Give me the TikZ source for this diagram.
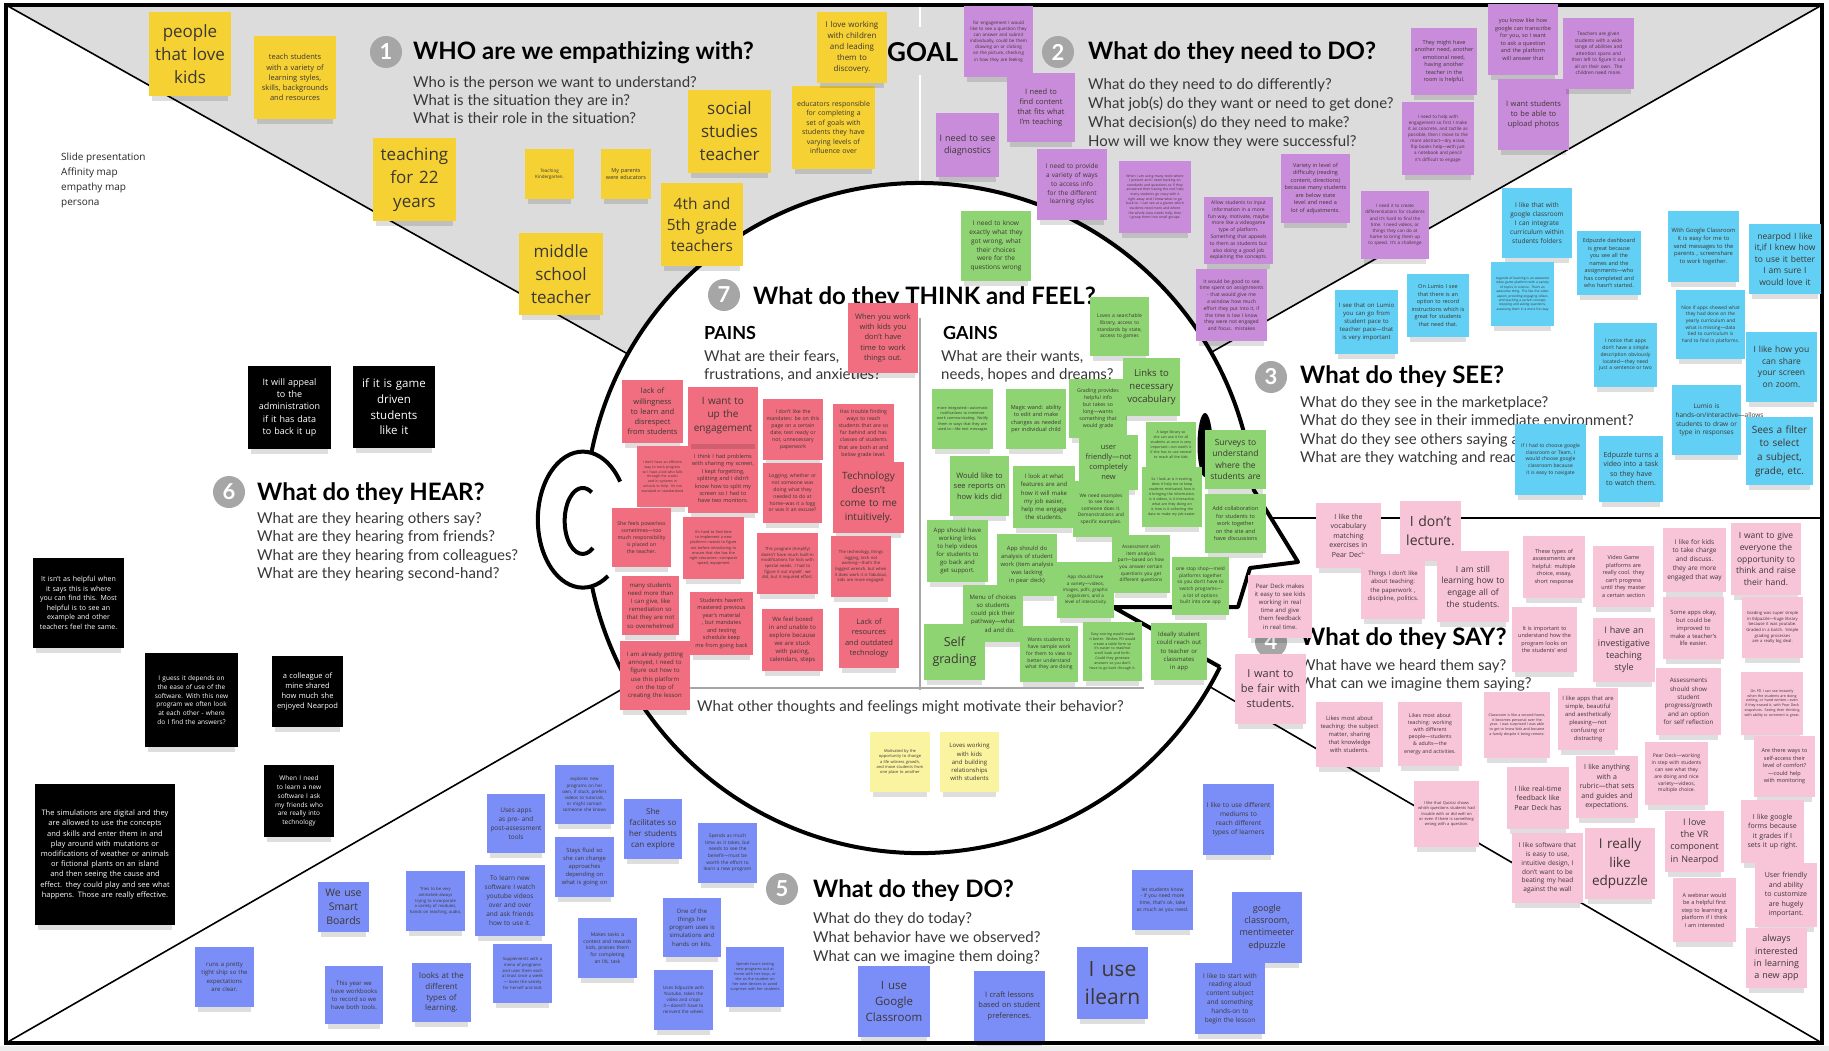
\documentclass[tikz,border=0pt]{standalone}
\usepackage{fontspec}
\setmainfont{Open Sans}
\newfontfamily\headfont{Lato}
\usepackage{tikz}
\definecolor{topgray}{RGB}{220,220,220}
\definecolor{badgegray}{RGB}{166,166,166}
\definecolor{qgray}{RGB}{55,55,55}
\definecolor{notefg}{RGB}{60,55,50}
\definecolor{yellownote}{RGB}{246,209,52}
\definecolor{palenote}{RGB}{250,243,160}
\definecolor{purplenote}{RGB}{201,140,218}
\definecolor{greennote}{RGB}{143,212,115}
\definecolor{rednote}{RGB}{240,110,128}
\definecolor{cyannote}{RGB}{98,207,244}
\definecolor{pinknote}{RGB}{248,196,216}
\definecolor{bluenote}{RGB}{123,142,248}
\hyphenpenalty=10000
\exhyphenpenalty=10000

\tikzset{
	ynote/.style={fill=yellownote}, ynote text/.style={text=notefg},
	lnote/.style={fill=palenote}, lnote text/.style={text=notefg},
	vnote/.style={fill=purplenote}, vnote text/.style={text=notefg},
	gnote/.style={fill=greennote}, gnote text/.style={text=notefg},
	rnote/.style={fill=rednote}, rnote text/.style={text=notefg},
	cnote/.style={fill=cyannote}, cnote text/.style={text=notefg},
	pnote/.style={fill=pinknote}, pnote text/.style={text=notefg},
	bnote/.style={fill=bluenote}, bnote text/.style={text=notefg},
	knote/.style={fill=black}, knote text/.style={text=white},
	notetext/.style={align=center, inner sep=0pt},
	heading/.style={anchor=base west, inner sep=0pt, font=\headfont\bfseries\fontsize{24}{28}\selectfont},
	question/.style={anchor=base west, inner sep=0pt, text=qgray, font=\headfont\fontsize{15}{18}\selectfont},
	badge/.style={circle, fill=badgegray, text=white, minimum size=32pt, inner sep=0pt, font=\headfont\bfseries\fontsize{22}{22}\selectfont},
	outline/.style={line width=4pt, line join=round},
	divider/.style={draw=black!35, line width=1.5pt}
}

% name, kind, x1, y1, x2, y2, font size, text
\newcommand{\sticky}[8]{%
	\pgfmathsetmacro{\stickyw}{#5-#3-7}%
	\pgfmathsetmacro{\stickyls}{#7*1.36}%
	\fill[black, opacity=0.13] ({#3+3},{#6-1}) rectangle ({#5-3},{#6+5});%
	\fill[#2] (#3,#4) rectangle (#5,#6);%
	\node[notetext, #2 text, text width=\stickyw pt, font=\fontsize{#7}{\stickyls}\selectfont] (#1) at ({(#3+#5)/2},{(#4+#6)/2}) {#8};%
}

\begin{document}
\begin{tikzpicture}[x=1pt,y=-1pt]
			\useasboundingbox (0,0) rectangle (1829,1051);
			\fill[white] (0,0) rectangle (1829,1051);
			\fill[black!7] (0,1046) rectangle (1829,1051);
			
			\fill[topgray] (6,5) -- (1822,5) -- (920,518) -- cycle;
			\draw[white, line width=2.5pt] (920,5) -- (920,27);
			\draw[white, line width=2.5pt] (920,75) -- (920,518);
			\foreach \cx/\cy in {6/5, 1822/5, 6/1043, 1822/1043} {
				\draw[black, line width=1.6pt] (\cx,\cy) -- (920,518);
			}
			\draw[black, line width=1.6pt] (920,518) -- (1822,518);
			\draw[black, line width=3.5pt] (6,5) rectangle (1822,1043);
			
			\fill[white] (920,518) circle[radius=335];
			\fill[white] (1253,490) -- (1298,562) -- (1250,568) -- (1238,607) -- (1220,667) -- cycle;
			\fill[white] (583,520) ellipse[x radius=45, y radius=68];
			\draw[outline] (1220,667) arc[start angle=26.4, end angle=168, radius=335];
			\draw[outline] (591.6,451.8) arc[start angle=191.4, end angle=355.2, radius=335]
				-- (1298,562) -- (1250,568) -- (1238,607) -- (1113,607) -- (1220,667);
			\draw[outline] (608,576) arc[start angle=56, end angle=326, x radius=45, y radius=68];
			\draw[outline] (593,548) arc[start angle=55, end angle=300, x radius=18, y radius=33];
			\fill[black] (1205,445) ellipse[x radius=7.5, y radius=32];
			\draw[divider] (920,318) -- (920,690);
			\draw[divider] (690,688) -- (1144,688);
			
			\node[badge] (b1) at (386,52) {1};
			\node[heading] (t1) at (413,60) {WHO are we empathizing with?};
			\foreach \q [count=\i] in {Who is the person we want to understand?, What is the situation they are in?, What is their role in the situation?} {
				\node[question] (q1-\i) at (413,{70+18*\i}) {\q};
			}
			\node[heading, font=\headfont\bfseries\fontsize{26}{28}\selectfont] (goal) at (887,62) {GOAL};
			
			\node[badge] (b2) at (1058,52) {2};
			\node[heading] (t2) at (1088,60) {What do they need to DO?};
			\foreach \q [count=\i] in {What do they need to do differently?, What job(s) do they want or need to get done?, What decision(s) do they need to make?, How will we know they were successful?} {
				\node[question] (q2-\i) at (1088,{71.3+18.7*\i}) {\q};
			}
			
			\node[badge] (b3) at (1271,377) {3};
			\node[heading] (t3) at (1300,383) {What do they SEE?};
			\foreach \q [count=\i] in {What do they see in the marketplace?, What do they see in their immediate environment?, What do they see others saying and doing?, What are they watching and reading?} {
				\node[question] (q3-\i) at (1300,{388.5+18.5*\i}) {\q};
			}
			
			\node[badge] (b4) at (1271,642) {4};
			\node[heading] (t4) at (1300,645) {What do they SAY?};
			\foreach \q [count=\i] in {What have we heard them say?, What can we imagine them saying?} {
				\node[question] (q4-\i) at (1300,{652+18*\i}) {\q};
			}
			
			\node[badge] (b5) at (782,889) {5};
			\node[heading] (t5) at (813,897) {What do they DO?};
			\foreach \q [count=\i] in {What do they do today?, What behavior have we observed?, What can we imagine them doing?} {
				\node[question] (q5-\i) at (813,{904+19*\i}) {\q};
			}
			
			\node[badge] (b6) at (229,492) {6};
			\node[heading] (t6) at (257,500) {What do they HEAR?};
			\foreach \q [count=\i] in {What are they hearing others say?, What are they hearing from friends?, What are they hearing from colleagues?, What are they hearing second-hand?} {
				\node[question] (q6-\i) at (257,{504.5+18.5*\i}) {\q};
			}
			
			\node[badge] (b7) at (724,295) {7};
			\node[heading] (t7) at (753,304) {What do they THINK and FEEL?};
			\node[heading, font=\headfont\bfseries\fontsize{18}{20}\selectfont] (pains) at (704,339) {PAINS};
			\node[heading, font=\headfont\bfseries\fontsize{18}{20}\selectfont] (gains) at (943,339) {GAINS};
			\foreach \q [count=\i] in {{What are their fears,}, {frustrations, and anxieties?}} {
				\node[question] (qp-\i) at (704,{343+18*\i}) {\q};
			}
			\foreach \q [count=\i] in {{What are their wants,}, {needs, hopes and dreams?}} {
				\node[question] (qg-\i) at (941,{343+18*\i}) {\q};
			}
			\node[question] (qm) at (697,711) {What other thoughts and feelings might motivate their behavior?};
			
			\node[anchor=north west, align=left, inner sep=0pt, text=black!85, font=\fontsize{10}{15}\selectfont] (methods) at (61,153) {Slide presentation\\Affinity map\\empathy map\\persona};
			
			\sticky{need1}{vnote}{964}{6}{1033}{77}{4.5}{for engagement I would like to see a question they can answer and submit individually, could be them drawing on or clicking on the picture, checking in how they are feeling}
			\sticky{need2}{vnote}{1007}{73}{1075}{142}{7.5}{I need to find content that fits what I'm teaching}
			\sticky{need3}{vnote}{936}{113}{999}{177}{9}{I need to see diagnostics}
			\sticky{need4}{vnote}{1037}{149}{1107}{220}{6.5}{I need to provide a variety of ways to access info for the different learning styles}
			\sticky{need5}{vnote}{1119}{161}{1191}{233}{3.4}{When I am using many tools where I present and I need tracking on standards and questions so if they answered then having the tool help many students go crazy with it right away and I know what to go back to. I can see at a glance which students need more and where the whole class needs help, then I group them into small groups.}
			\sticky{need6}{vnote}{1204}{197}{1273}{264}{5}{Allow students to input information in a more fun way, motivate, maybe more like a videogame type of platform. Something that appeals to them as students but also doing a good job explaining the concepts.}
			\sticky{need7}{vnote}{1196}{269}{1267}{341}{5}{It would be good to see time spent on assignments - that would give me a window how much effort they put into it, if the time is low I know they were not engaged and focus. mistakes}
			\sticky{need8}{vnote}{1281}{154}{1350}{223}{5.5}{Variety in level of difficulty (reading content, directions) because many students are below state level and need a lot of adjustments.}
			\sticky{need9}{vnote}{1402}{102}{1474}{175}{4.5}{I need to help with engagement so first I make it as concrete, and tactile as possible, then I move to the more abstract---dry erase, flip books help---with just a notebook and pencil it's difficult to engage}
			\sticky{need10}{vnote}{1411}{28}{1477}{95}{5.5}{They might have another need, another emotional need, having another teacher in the room is helpful.}
			\sticky{need11}{vnote}{1361}{191}{1429}{259}{4.5}{I need it to create differentiations for students and it's hard to find the time. I need videos, or things they can do at home to bring them up to speed. It's a challenge}
			\sticky{need12}{vnote}{1488}{4}{1558}{75}{5.5}{you know like how google can transcribe for you, so I want to ask a question and the platform will answer that}
			\sticky{need13}{vnote}{1498}{79}{1569}{150}{7.5}{I want students to be able to upload photos}
			\sticky{need14}{vnote}{1563}{18}{1634}{89}{4.8}{Teachers are given students with a wide range of abilities and attention spans and then left to figure it out all on their own. The children need more.}
			
			\sticky{who1}{ynote}{149}{12}{231}{96}{17}{people that love kids}
			\sticky{who2}{ynote}{254}{36}{336}{119}{7.5}{teach students with a variety of learning styles, skills, backgrounds and resources}
			\sticky{who3}{ynote}{373}{138}{456}{221}{17}{teaching for 22 years}
			\sticky{who4}{ynote}{525}{149}{574}{199}{4.5}{Teaching Kindergarten.}
			\sticky{who5}{ynote}{601}{149}{651}{199}{5.5}{My parents were educators}
			\sticky{who6}{ynote}{519}{233}{603}{315}{17}{middle school teacher}
			\sticky{who7}{ynote}{661}{183}{743}{266}{15.5}{4th and 5th grade teachers}
			\sticky{who8}{ynote}{688}{90}{771}{173}{17}{social studies teacher}
			\sticky{who9}{ynote}{792}{86}{875}{169}{7}{educators responsible for completing a set of goals with students they have varying levels of influence over}
			\sticky{who10}{ynote}{817}{12}{887}{83}{8}{I love working with children and leading them to discovery.}
			
			\sticky{see1}{cnote}{1502}{188}{1572}{258}{6.5}{I like that with google classroom I can integrate curriculum within students folders}
			\sticky{see2}{cnote}{1335}{290}{1398}{354}{6}{I see that on Lumio you can go from student pace to teacher pace---that is very important}
			\sticky{see3}{cnote}{1407}{274}{1469}{337}{5.5}{On Lumio I see that there is an option to record instructions which is great for students that need that.}
			\sticky{see4}{cnote}{1491}{262}{1554}{326}{3.2}{Legends of learning is an awesome video game platform with a variety of topics in science. That's an awesome thing. The like the video aspect, providing engaging videos and teaching a certain concept, stopping and asking questions, assessing them in a more fun way}
			\sticky{see5}{cnote}{1577}{231}{1641}{295}{5.5}{Edpuzzle dashboard is great because you see all the names and the assignments---who has completed and who hasn't started.}
			\sticky{see6}{cnote}{1668}{211}{1739}{282}{5.8}{With Google Classroom it is easy for me to send messages to the parents , screenshare to work together.}
			\sticky{see7}{cnote}{1749}{224}{1821}{294}{8.5}{nearpod I like it,if I knew how to use it better I am sure I would love it}
			\sticky{see8}{cnote}{1594}{323}{1657}{387}{5}{I notice that apps don't have a simple description obviously located---they need just a sentence or two}
			\sticky{see9}{cnote}{1676}{290}{1745}{359}{4.8}{Nice if apps showed what they had done on the yearly curriculum and what is missing---data tied to curriculum is hard to find in platforms.}
			\sticky{see10}{cnote}{1746}{332}{1817}{402}{8.5}{I like how you can share your screen on zoom.}
			\sticky{see11}{cnote}{1672}{385}{1741}{455}{6.5}{Lumio is hands-on/interactive---allows students to draw or type in responses}
			\sticky{see12}{cnote}{1746}{417}{1813}{485}{10}{Sees a filter to select a subject, grade, etc.}
			\sticky{see13}{cnote}{1599}{436}{1663}{502}{7}{Edpuzzle turns a video into a task so they have to watch them.}
			\sticky{see14}{cnote}{1515}{424}{1586}{495}{5}{If I had to choose google classroom or Team, I would choose google classroom because it is easy to navigate}
			
			\sticky{say1}{pnote}{1316}{503}{1381}{568}{7}{I like the vocabulary matching exercises in Pear Deck}
			\sticky{say2}{pnote}{1400}{501}{1461}{561}{14}{I don't lecture.}
			\sticky{say3}{pnote}{1361}{554}{1425}{619}{6}{Things I don't like about teaching: the paperwork , discipline, politics.}
			\sticky{say4}{pnote}{1437}{551}{1509}{622}{8.5}{I am still learning how to engage all of the students.}
			\sticky{say5}{pnote}{1248}{575}{1312}{638}{6}{Pear Deck makes it easy to see kids working in real time and give them feedback in real time.}
			\sticky{say6}{pnote}{1235}{654}{1306}{724}{11}{I want to be fair with students.}
			\sticky{say7}{pnote}{1523}{536}{1585}{598}{5.5}{These types of assessments are helpful: multiple choice, essay, short response}
			\sticky{say8}{pnote}{1512}{607}{1577}{672}{5.5}{It is important to understand how the program looks on the students' end}
			\sticky{say9}{pnote}{1593}{546}{1654}{607}{5.5}{Video Game platforms are really cool. they can't progress until they master a certain section}
			\sticky{say10}{pnote}{1593}{618}{1655}{682}{9}{I have an investigative teaching style}
			\sticky{say11}{pnote}{1663}{528}{1726}{592}{6.5}{I like for kids to take charge and discuss. they are more engaged that way}
			\sticky{say12}{pnote}{1663}{597}{1724}{659}{5.8}{Some apps okay, but could be improved to make a teacher's life easier.}
			\sticky{say13}{pnote}{1731}{523}{1801}{595}{8.5}{I want to give everyone the opportunity to think and raise their hand.}
			\sticky{say14}{pnote}{1742}{597}{1803}{658}{4.2}{Grading was super simple in Edpuzzle---huge library because it was youtube. Graded in a batch. Simple grading processes are a really big deal.}
			\sticky{say15}{pnote}{1656}{668}{1721}{735}{6.2}{Assessments should show student progress/growth and an option for self reflection}
			\sticky{say16}{pnote}{1741}{672}{1803}{735}{3.6}{On PD I can see instantly when the students are doing writing, or hand written---even if they erased it, with Pear Deck snapshots. Seeing their thinking with ability to comment is great.}
			\sticky{say17}{pnote}{1558}{688}{1618}{750}{5.8}{I like apps that are simple, beautiful and aesthetically pleasing---not confusing or distracting}
			\sticky{say18}{pnote}{1484}{692}{1550}{758}{3.6}{Classroom is like a second home, it becomes personal over the year. I was surprised I was able to get to know kids and became a family despite it being remote.}
			\sticky{say19}{pnote}{1316}{702}{1383}{767}{5.8}{Likes most about teaching: the subject matter, sharing that knowledge with students.}
			\sticky{say20}{pnote}{1398}{702}{1462}{766}{5.2}{Likes most about teaching: working with different people---students \& adults---the energy and activities.}
			\sticky{say21}{pnote}{1414}{781}{1479}{847}{4}{I like that Quizizz shows which questions students had trouble with or did well on or even if there is something wrong with a question.}
			\sticky{say22}{pnote}{1507}{767}{1569}{829}{7}{I like real-time feedback like Pear Deck has}
			\sticky{say23}{pnote}{1576}{756}{1638}{818}{7}{I like anything with a rubric---that sets and guides and expectations.}
			\sticky{say24}{pnote}{1645}{742}{1708}{805}{5}{Pear Deck---working in step with students can see what they are doing and nice variety---videos, multiple choice.}
			\sticky{say25}{pnote}{1754}{736}{1815}{797}{5.5}{Are there ways to self-access their level of comfort? ---could help with monitoring}
			\sticky{say26}{pnote}{1512}{833}{1583}{903}{6.5}{I like software that is easy to use, intuitive design, I don't want to be beating my head against the wall}
			\sticky{say27}{pnote}{1585}{828}{1655}{899}{13.5}{I really like edpuzzle}
			\sticky{say28}{pnote}{1665}{811}{1724}{872}{9}{I love the VR component in Nearpod}
			\sticky{say29}{pnote}{1741}{800}{1804}{863}{7}{I like google forms because it grades if I sets it up right.}
			\sticky{say30}{pnote}{1673}{878}{1736}{942}{5.5}{A webinar would be a helpful first step to learning a platform if I think I am interested}
			\sticky{say31}{pnote}{1755}{863}{1817}{927}{7}{User friendly and ability to customize are hugely important.}
			\sticky{say32}{pnote}{1746}{928}{1807}{988}{9}{always interested in learning a new app}
			
			\sticky{do1}{bnote}{1203}{784}{1274}{855}{6.5}{I like to use different mediums to reach different types of learners}
			\sticky{do2}{bnote}{1232}{892}{1302}{963}{9}{google classroom, mentimeeter edpuzzle}
			\sticky{do3}{bnote}{1195}{963}{1265}{1034}{6.5}{I like to start with reading aloud content subject and something hands-on to begin the lesson}
			\sticky{do4}{bnote}{624}{799}{682}{859}{8}{She facilitates so her students can explore}
			\sticky{do5}{bnote}{698}{823}{757}{883}{4.8}{Spends as much time as it takes, but needs to see the benefit---must be worth the effort to learn a new program}
			\sticky{do6}{bnote}{663}{898}{721}{957}{6}{One of the things her program uses is simulations and hands on kits.}
			\sticky{do7}{bnote}{726}{947}{784}{1007}{3.8}{Spends hours testing new programs out at home with her boys, or she as the student on her own devices to avoid surprises with her students}
			\sticky{do8}{bnote}{654}{970}{713}{1030}{4.5}{Uses Edpuzzle with Youtube, takes the video and crops it---doesn't have to reinvent the wheel.}
			\sticky{do9}{bnote}{858}{966}{930}{1037}{11.5}{I use Google Classroom}
			\sticky{do10}{bnote}{974}{971}{1045}{1041}{7.5}{I craft lessons based on student preferences.}
			\sticky{do11}{bnote}{1077}{947}{1148}{1019}{21}{I use ilearn}
			\sticky{do12}{bnote}{1132}{870}{1193}{930}{5}{let students know - if you need more time, that's ok, take as much as you need.}
			\sticky{do13}{bnote}{578}{918}{637}{978}{5}{Makes tasks a contest and rewards kids, praises them for completing an IXL task}
			\sticky{do14}{bnote}{555}{765}{614}{824}{4.5}{explores new programs on her own, if stuck, prefers videos to tutorials, or might contact someone she knows}
			\sticky{do15}{bnote}{555}{837}{614}{897}{5.8}{Stays fluid so she can change approaches depending on what is going on}
			\sticky{do16}{bnote}{487}{794}{545}{853}{6.5}{Uses apps as pre- and post-assessment tools}
			\sticky{do17}{bnote}{475}{865}{545}{936}{6.5}{To learn new software I watch youtube videos over and over and ask friends how to use it.}
			\sticky{do18}{bnote}{406}{871}{465}{931}{4.2}{Tries to be very animated--always trying to incorporate a variety of modules, hands on teaching, audio,}
			\sticky{do19}{bnote}{318}{882}{369}{932}{10.5}{We use Smart Boards}
			\sticky{do20}{bnote}{493}{944}{552}{1003}{4.2}{Supplements with a menu of programs and uses them each at least once a week --- loves the variety for herself and kids}
			\sticky{do21}{bnote}{195}{947}{254}{1007}{6}{runs a pretty tight ship so the expectations are clear.}
			\sticky{do22}{bnote}{325}{966}{383}{1024}{6}{This year we have workbooks to record so we have both tools.}
			\sticky{do23}{bnote}{412}{963}{471}{1022}{8}{looks at the different types of learning.}
			
			\sticky{hear1}{knote}{248}{366}{331}{449}{9}{It will appeal to the administration if it has data to back it up}
			\sticky{hear2}{knote}{353}{366}{435}{448}{11.5}{if it is game driven students like it}
			\sticky{hear3}{knote}{33}{558}{124}{648}{7}{It isn't as helpful when it says this is where you can find this. Most helpful is to see an example and other teachers feel the same.}
			\sticky{hear4}{knote}{145}{653}{238}{747}{6.5}{I guess it depends on the ease of use of the software. With this new program we often look at each other - where do I find the answers?}
			\sticky{hear5}{knote}{272}{656}{343}{727}{7.5}{a colleague of mine shared how much she enjoyed Nearpod}
			\sticky{hear6}{knote}{264}{765}{334}{837}{6.5}{When I need to learn a new software I ask my friends who are really into technology}
			\sticky{hear7}{knote}{35}{784}{175}{925}{7.5}{The simulations are digital and they are allowed to use the concepts and skills and enter them in and play around with mutations or modifications of weather or animals or fictional plants on an island and then seeing the cause and effect. they could play and see what happens. Those are really effective.}
			
			\sticky{pain1}{rnote}{622}{380}{683}{443}{7.5}{lack of willingness to learn and disrespect from students}
			\sticky{pain3}{rnote}{688}{444}{758}{513}{5.5}{I think I had problems with sharing my screen, I kept forgetting, splitting and I didn't know how to split my screen so I had to have two monitors.}
			\sticky{pain2}{rnote}{688}{387}{758}{444}{10}{I want to up the engagement}
			\sticky{pain4}{rnote}{637}{446}{688}{507}{3.5}{I don't have an efficient way to track progress so I have a kid who falls through the cracks and in systems in schools to help. It's not standard or standardized}
			\sticky{pain5}{rnote}{763}{399}{823}{460}{5.2}{I don't like the mandates: be on this page on a certain date, test ready or not, unnecessary paperwork}
			\sticky{pain6}{rnote}{833}{404}{894}{463}{5.2}{Has trouble finding ways to reach students that are so far behind and has classes of students that are both at and below grade level.}
			\sticky{pain7}{rnote}{763}{463}{822}{523}{5}{Logging, whether or not someone was doing what they needed to do at home--was it a logg or was it an excuse?}
			\sticky{pain8}{rnote}{833}{462}{904}{533}{10}{Technology doesn't come to me intuitively.}
			\sticky{pain9}{rnote}{612}{508}{671}{567}{5.2}{She feels powerless sometimes---too much responsibility is placed on the teacher.}
			\sticky{pain10}{rnote}{683}{517}{744}{579}{3.8}{It's hard to find time to implement a new platform---wants to figure out before introducing to ensure that she has the right resources---computer speed, equipment}
			\sticky{pain11}{rnote}{757}{533}{818}{594}{4.2}{This program (Amplify) doesn't have much built-in modifications for kids with special needs. I had to figure it out myself. we did, but it required effort.}
			\sticky{pain12}{rnote}{831}{536}{891}{597}{4.2}{The technology, things lagging, tech not working---that's the biggest wrench, but when it does work it is fabulous, kids are more engaged.}
			\sticky{pain13}{rnote}{622}{576}{679}{635}{6}{many students need more than I can give, like remediation so that they are not so overwhelmed}
			\sticky{pain14}{rnote}{690}{592}{753}{655}{5.5}{Students haven't mastered previous year's material , but mandates and testing schedule keep me from going back}
			\sticky{pain15}{rnote}{762}{609}{823}{671}{6}{We feel boxed in and unable to explore because we are stuck with pacing, calendars, steps}
			\sticky{pain16}{rnote}{839}{608}{899}{668}{7.5}{Lack of resources and outdated technology}
			\sticky{pain17}{rnote}{620}{641}{690}{710}{6}{I am already getting annoyed, I need to figure out how to use this platform on the top of creating the lesson}
			\sticky{pain18}{rnote}{848}{303}{918}{373}{7.5}{When you work with kids you don't have time to work things out.}
			
			\sticky{gain23}{gnote}{961}{211}{1031}{281}{6.5}{I need to know exactly what they got wrong, what their choices were for the questions wrong}
			\sticky{gain24}{gnote}{1090}{297}{1149}{356}{5}{Loves a searchable library, access to standards by state, access to games}
			\sticky{gain1}{gnote}{932}{389}{993}{449}{3.8}{more integrated---automatic notifications to minimize work communicating. Notify them in ways that they are used to---like text messages}
			\sticky{gain2}{gnote}{1006}{389}{1066}{449}{5.5}{Magic wand: ability to edit and make changes as needed per individual child}
			\sticky{gain3}{gnote}{1069}{379}{1127}{438}{5.2}{Grading provides helpful info but takes so long---wants something that would grade}
			\sticky{gain4}{gnote}{1123}{358}{1180}{416}{9.5}{Links to necessary vocabulary}
			\sticky{gain5}{gnote}{1079}{435}{1138}{490}{7.5}{user friendly---not completely new}
			\sticky{gain6}{gnote}{1146}{422}{1196}{467}{3.6}{A large library so she can use it for all students at once is very important---not worth it if she has to use several to reach all the kids}
			\sticky{gain7}{gnote}{950}{456}{1009}{516}{7.5}{Would like to see reports on how kids did}
			\sticky{gain8}{gnote}{1013}{466}{1075}{528}{6}{I look at what features are and how it will make my job easier, help me engage the students.}
			\sticky{gain9}{gnote}{1073}{481}{1129}{537}{4.8}{We need examples to see how someone does it. Demonstrations and specific examples.}
			\sticky{gain10}{gnote}{1142}{467}{1202}{527}{3.6}{So I look at is it exciting, does it help me to keep students motivated, how is it bringing the information, is it videos, is it interactive, what are they doing on it, how is it collecting the data to make my job easier.}
			\sticky{gain21}{gnote}{1205}{430}{1266}{489}{8.5}{Surveys to understand where the students are}
			\sticky{gain22}{gnote}{1205}{494}{1266}{553}{5.5}{Add collaboration for students to work together on the site and have discussions}
			\sticky{gain11}{gnote}{927}{520}{988}{582}{6}{App should have working links to help videos for students to go back and get support.}
			\sticky{gain12}{gnote}{997}{534}{1057}{596}{5.8}{App should do analysis of student work (item analysis was lacking in pear deck)}
			\sticky{gain14}{gnote}{1112}{535}{1170}{593}{4.8}{Assessment with item analysis part---based on how you answer certain questions you get different questions}
			\sticky{gain13}{gnote}{1057}{562}{1114}{618}{4.5}{App should have a variety---videos, images, pdfs, graphic organizers, and a level of interactivity}
			\sticky{gain15}{gnote}{1172}{557}{1229}{615}{4.8}{one stop shop---meld platforms together so you don't have to switch programs--- a lot of options built into one app}
			\sticky{gain16}{gnote}{963}{585}{1023}{642}{6}{Menu of choices so students could pick their pathway---what to read and do.}
			\sticky{gain17}{gnote}{924}{624}{985}{680}{12.5}{Self grading}
			\sticky{gain18}{gnote}{1020}{626}{1078}{682}{5}{Wants students to have sample work for them to view to better understand what they are doing}
			\sticky{gain19}{gnote}{1083}{622}{1142}{681}{3.6}{Easy scoring would make it better. Wishes PD would create a table form so it's easier to read/not scroll back and forth. Could they generate answers so you don't have to go back through it.}
			\sticky{gain20}{gnote}{1151}{623}{1207}{680}{6}{Ideally student could reach out to teacher or classmates in app}
			
			\sticky{motive1}{lnote}{870}{732}{930}{792}{4}{Motivated by the opportunity to change a life witness growth, and move students from one place to another}
			\sticky{motive2}{lnote}{940}{732}{999}{792}{6}{Loves working with kids and building relationships with students}
			
		\end{tikzpicture}
\end{document}
